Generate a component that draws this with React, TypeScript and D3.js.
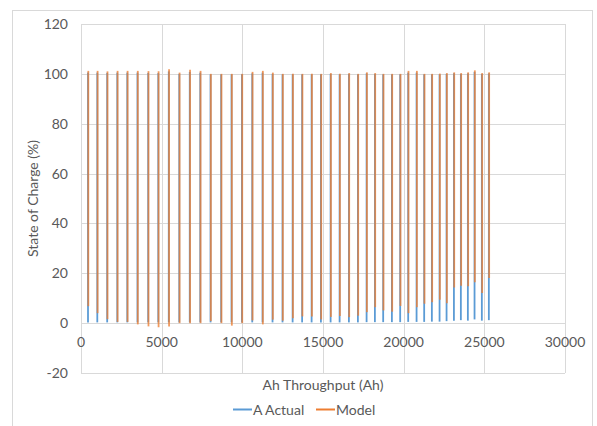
import React from "react";
import * as d3 from "d3";

const W = 597;
const H = 426;

// Cycle positions (Ah throughput) for each charge/discharge spike
const cycleAh = [434, 1010, 1623, 2249, 2869, 3501, 4164, 4790, 5440, 6091, 6741, 7392, 8030, 8687, 9331, 9975, 10614, 11252, 11872, 12491, 13117, 13706, 14294, 14870, 15471, 16029, 16605, 17163, 17702, 18216, 18730, 19270, 19784, 20280, 20800, 21271, 21748, 22225, 22659, 23115, 23545, 23979, 24393, 24846, 25280];
// Model SOC peak and trough per cycle
const modelMax = [101.2, 101.2, 101.0, 101.2, 101.2, 101.2, 101.1, 101.0, 101.8, 100.5, 101.6, 101.2, 100.0, 100.0, 100.0, 100.0, 100.8, 101.2, 100.5, 100.0, 100.0, 100.0, 100.0, 100.0, 100.3, 100.0, 100.3, 100.0, 100.6, 100.3, 100.0, 100.0, 100.0, 101.2, 101.2, 100.0, 100.0, 100.1, 100.3, 100.6, 100.3, 100.6, 101.4, 100.3, 100.6];
const modelMin = [6.8, 4.0, 1.6, 0.5, 0.5, -0.5, -1.3, -1.6, -1.3, 0.0, 0.0, 0.0, 0.8, 0.0, -1.0, 0.0, 1.1, -0.5, 1.4, 1.0, 2.0, 2.7, 2.7, 1.5, 2.5, 2.9, 2.4, 3.0, 4.4, 6.4, 5.1, 4.6, 6.9, 4.0, 6.4, 7.8, 8.4, 9.4, 8.0, 14.3, 15.0, 14.8, 16.4, 12.1, 18.1];
// Actual SOC peak and trough per cycle
const actualMax = [100.5, 100.5, 100.4, 100.5, 100.5, 100.5, 100.4, 100.3, 101.0, 100.0, 100.8, 100.5, 99.8, 99.8, 99.8, 99.8, 100.2, 100.5, 100.0, 99.8, 99.8, 99.8, 99.8, 99.8, 100.0, 99.8, 100.0, 99.8, 100.2, 100.0, 99.8, 99.8, 99.8, 100.5, 100.5, 99.8, 99.8, 99.8, 100.0, 100.2, 100.0, 100.2, 100.8, 100.0, 100.2];
const actualMin = [0.3, 0.3, 0.3, 0.3, 0.3, 0.3, 0.3, 0.3, 0.3, 0.3, 0.3, 0.3, 0.3, 0.3, 0.3, 0.3, 0.3, 0.3, 0.3, 0.3, 0.3, 0.3, 0.3, 0.3, 0.3, 0.3, 0.3, 0.3, 0.4, 0.4, 0.4, 0.4, 0.4, 0.5, 0.5, 0.5, 0.6, 0.6, 0.8, 1.0, 1.2, 1.0, 1.5, 1.0, 1.2];

const xTicks = [0, 5000, 10000, 15000, 20000, 25000, 30000];
const yTicks = [-20, 0, 20, 40, 60, 80, 100, 120];

const seriesNames = ["A Actual", "Model"];
const colors = ["#5B9BD5", "#ED7D31"];

export default function App() {
  const left = 81, right = 565, top = 24, bottom = 373;
  const x = d3.scaleLinear().domain([0, 30000]).range([left, right]);
  const y = d3.scaleLinear().domain([-20, 120]).range([bottom, top]);
  const font = "Lato, 'Open Sans', sans-serif";
  const tc = "#595959";
  const fs = 14;
  const line = d3.line<[number, number]>().x((d) => d[0]).y((d) => d[1]);

  return (
    <svg width={W} height={H} style={{ position: "absolute", left: 0, top: 0, background: "#fff" }}>
      <rect x={12.5} y={10.5} width={580} height={440} fill="#fff" stroke="#d9d9d9" />
      {yTicks.map((t) => (
        <line key={"gy" + t} x1={left} x2={right} y1={Math.round(y(t)) + 0.5} y2={Math.round(y(t)) + 0.5} stroke="#d9d9d9" />
      ))}
      {xTicks.map((t) => (
        <line key={"gx" + t} x1={Math.round(x(t)) + 0.5} x2={Math.round(x(t)) + 0.5} y1={top} y2={bottom} stroke="#d9d9d9" />
      ))}
      {cycleAh.map((a, i) => {
        const px = x(a);
        return (
          <path key={"a" + i} d={line([[px, y(actualMax[i])], [px, y(actualMin[i])]]) || ""} stroke={colors[0]} strokeWidth={1.8} fill="none" />
        );
      })}
      {cycleAh.map((a, i) => {
        const px = x(a);
        return (
          <path key={"m" + i} d={line([[px + 0.3, y(modelMax[i])], [px + 0.3, y(modelMin[i])]]) || ""} stroke={colors[1]} strokeWidth={1.8} strokeOpacity={0.78} fill="none" />
        );
      })}
      {yTicks.map((t) => (
        <text key={"ty" + t} x={68} y={y(t) + 5} textAnchor="end" fontFamily={font} fontSize={fs} fill={tc}>{t}</text>
      ))}
      {xTicks.map((t) => (
        <text key={"tx" + t} x={x(t)} y={y(0) + 24} textAnchor="middle" fontFamily={font} fontSize={fs} fill={tc}>{t}</text>
      ))}
      <text x={(left + right) / 2} y={390} textAnchor="middle" fontFamily={font} fontSize={fs} fill={tc}>Ah Throughput (Ah)</text>
      <text transform={`translate(38,${(top + bottom) / 2}) rotate(-90)`} textAnchor="middle" fontFamily={font} fontSize={fs} fill={tc}>State of Charge (%)</text>
      <g>
        <line x1={233} x2={252} y1={409.5} y2={409.5} stroke={colors[0]} strokeWidth={2} />
        <text x={253} y={414.5} fontFamily={font} fontSize={fs} fill={tc}>{seriesNames[0]}</text>
        <line x1={316} x2={335} y1={409.5} y2={409.5} stroke={colors[1]} strokeWidth={2} />
        <text x={336} y={414.5} fontFamily={font} fontSize={fs} fill={tc}>{seriesNames[1]}</text>
      </g>
    </svg>
  );
}
